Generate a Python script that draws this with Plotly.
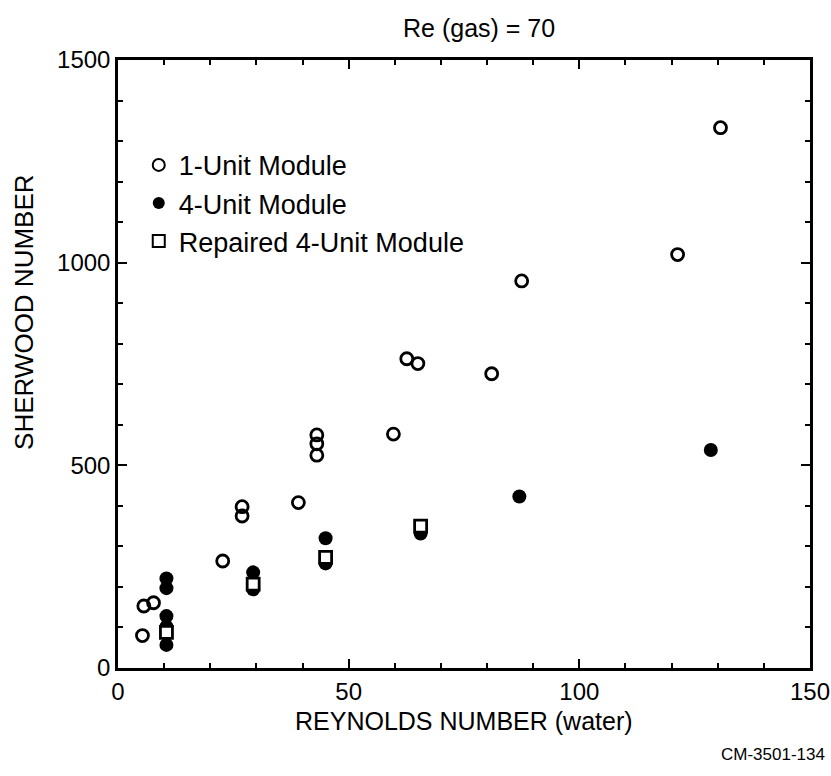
import plotly.graph_objects as go

# 1-Unit Module (open circles)
one_x = [5.3, 5.6, 7.7, 22.7, 26.9, 26.9, 39.1, 43.1, 43.1, 43.1, 59.7, 62.6, 65.0, 81.0, 87.5, 121.3, 130.6]
one_y = [80, 153, 161, 264, 375, 398, 408, 525, 553, 575, 577, 763, 751, 726, 955, 1020, 1333]

# 4-Unit Module (filled circles)
four_x = [10.5, 10.5, 10.5, 10.5, 10.5, 29.3, 29.3, 45.0, 45.0, 65.6, 87.0, 128.5]
four_y = [221, 197, 128, 102, 57, 236, 194, 320, 258, 332, 423, 538]

# Repaired 4-Unit Module (open squares)
rep_x = [10.5, 29.3, 45.0, 65.6]
rep_y = [88, 207, 273, 350]

x_ticks = [0, 50, 100, 150]
y_ticks = [0, 500, 1000, 1500]

FONT = "Liberation Sans, Arial, sans-serif"

fig = go.Figure()
fig.add_trace(go.Scatter(
    x=one_x, y=one_y, mode="markers", name="1-Unit Module",
    marker=dict(symbol="circle-open", size=12, color="black", line=dict(width=2.8)),
))
fig.add_trace(go.Scatter(
    x=four_x, y=four_y, mode="markers", name="4-Unit Module",
    marker=dict(symbol="circle", size=14, color="black", line=dict(width=0)),
))
fig.add_trace(go.Scatter(
    x=rep_x, y=rep_y, mode="markers", name="Repaired 4-Unit Module",
    marker=dict(symbol="square", size=12, color="white", line=dict(width=2.8, color="black")),
))

axis_common = dict(
    showline=True, linewidth=2.5, linecolor="black", mirror="ticks",
    ticks="inside", ticklen=9, tickwidth=2, tickcolor="black",
    showgrid=False, zeroline=False, automargin=False,
    tickfont=dict(family=FONT, size=24, color="black"),
)

fig.update_xaxes(
    range=[0, 150], tickvals=x_ticks, ticktext=[str(v) for v in x_ticks],
    minor=dict(dtick=10, ticks="inside", ticklen=5, tickwidth=1.5, tickcolor="black"),
    **axis_common,
)
fig.update_yaxes(
    range=[0, 1500], tickvals=y_ticks, ticktext=[str(v) for v in y_ticks],
    minor=dict(dtick=100, ticks="inside", ticklen=5, tickwidth=1.5, tickcolor="black"),
    **axis_common,
)

fig.add_annotation(
    text="REYNOLDS NUMBER (water)", xref="paper", yref="paper",
    x=0.5, y=-0.087, xanchor="center", yanchor="middle", showarrow=False,
    font=dict(family=FONT, size=25, color="black"),
)
fig.add_annotation(
    text="SHERWOOD NUMBER", textangle=-90, xref="paper", yref="paper",
    x=-0.135, y=0.585, xanchor="center", yanchor="middle", showarrow=False,
    font=dict(family=FONT, size=26, color="black"),
)
fig.add_annotation(
    text="Re (gas) = 70", xref="paper", yref="paper",
    x=0.522, y=1.053, xanchor="center", yanchor="middle", showarrow=False,
    font=dict(family=FONT, size=25, color="black"),
)
fig.add_annotation(
    text="CM-3501-134", xref="paper", yref="paper",
    x=1.024, y=-0.143, xanchor="right", yanchor="middle", showarrow=False,
    font=dict(family=FONT, size=17, color="black"),
)

fig.update_layout(
    width=831, height=776,
    margin=dict(l=118, r=21, t=60, b=108),
    paper_bgcolor="white", plot_bgcolor="white",
    showlegend=True,
    legend=dict(
        x=0.03, y=0.867, xanchor="left", yanchor="top",
        bgcolor="rgba(0,0,0,0)", borderwidth=0,
        font=dict(family=FONT, size=27, color="black"),
        tracegroupgap=0, itemsizing="constant",
    ),
)

# remove the default page margin so the figure fills the window exactly
fig.write_html(
    "out.html",
    config={"displayModeBar": False},
    post_script="document.body.style.margin='0';document.body.style.overflow='hidden';",
)
